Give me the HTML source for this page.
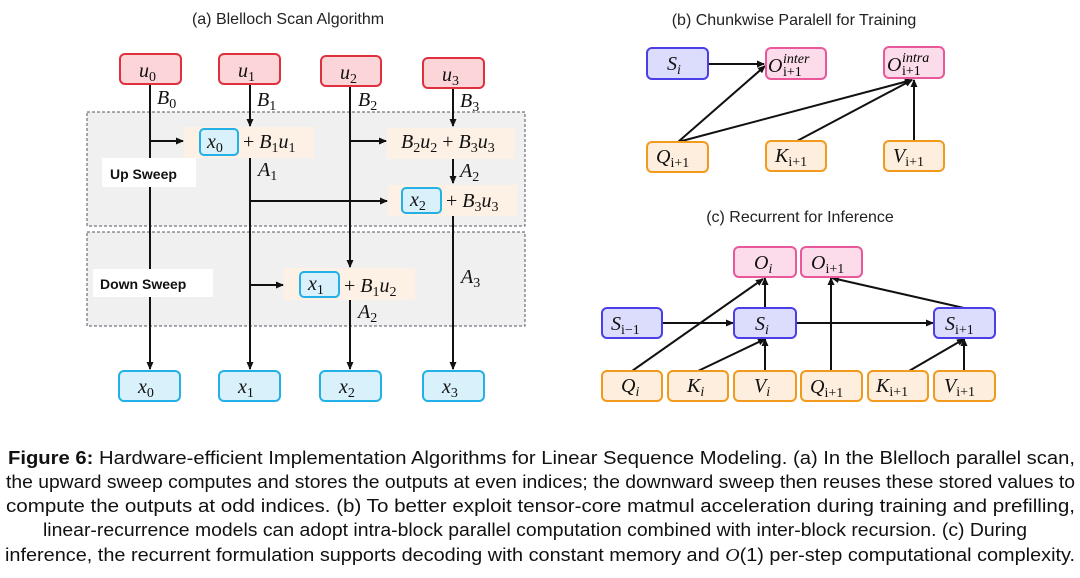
<!DOCTYPE html>
<html><head><meta charset="utf-8"><style>
html,body{margin:0;padding:0;background:#fff;}
svg{display:block;}
.m{font-family:"Liberation Serif",serif;font-style:italic;font-size:20px;fill:#111;}
.s{font-family:"Liberation Serif",serif;font-style:normal;font-size:14px;}
.si{font-family:"Liberation Serif",serif;font-style:italic;font-size:14px;}
.t{font-family:"Liberation Sans",sans-serif;font-size:16px;fill:#222;}
.c{font-family:"Liberation Sans",sans-serif;font-size:18px;fill:#111;}
.l{font-family:"Liberation Sans",sans-serif;font-weight:bold;font-size:14px;fill:#111;}
</style></head><body>
<svg width="1080" height="578" viewBox="0 0 1080 578" xmlns="http://www.w3.org/2000/svg">
<defs><marker id="a" markerWidth="8" markerHeight="8" refX="7" refY="4" orient="auto" markerUnits="userSpaceOnUse"><path d="M0,0.5 L8,4 L0,7.5 z" fill="#111"/></marker></defs>

<text class="t" x="288" y="24" text-anchor="middle">(a) Blelloch Scan Algorithm</text>
<text class="t" x="794" y="25" text-anchor="middle">(b) Chunkwise Paralell for Training</text>
<text class="t" x="800" y="222" text-anchor="middle">(c) Recurrent for Inference</text>

<rect x="87" y="112" width="438" height="114" fill="#f0f0f0" stroke="#556" stroke-dasharray="3,2" stroke-width="1"/>
<rect x="87" y="232" width="438" height="94" fill="#f0f0f0" stroke="#556" stroke-dasharray="3,2" stroke-width="1"/>

<rect x="184" y="127" width="130" height="31" fill="#fdf0e4"/>
<rect x="387" y="128" width="128" height="31" fill="#fdf0e4"/>
<rect x="388" y="185" width="129" height="31" fill="#fdf0e4"/>
<rect x="284" y="268" width="131" height="32" fill="#fdf0e4"/>

<g stroke="#111" stroke-width="2" fill="none">
<line x1="150" y1="84" x2="150" y2="369" marker-end="url(#a)"/>
<line x1="150" y1="141" x2="183" y2="141" marker-end="url(#a)"/>
<line x1="250" y1="84" x2="250" y2="126" marker-end="url(#a)"/>
<line x1="250" y1="158" x2="250" y2="369" marker-end="url(#a)"/>
<line x1="250" y1="201" x2="387" y2="201" marker-end="url(#a)"/>
<line x1="250" y1="285" x2="283" y2="285" marker-end="url(#a)"/>
<line x1="350" y1="86" x2="350" y2="267" marker-end="url(#a)"/>
<line x1="350" y1="141" x2="386" y2="141" marker-end="url(#a)"/>
<line x1="350" y1="300" x2="350" y2="369" marker-end="url(#a)"/>
<line x1="453" y1="88" x2="453" y2="126" marker-end="url(#a)"/>
<line x1="453" y1="159" x2="453" y2="183" marker-end="url(#a)"/>
<line x1="453" y1="216" x2="453" y2="369" marker-end="url(#a)"/>
</g>

<rect x="102" y="158" width="94" height="29" fill="#fff"/>
<rect x="93" y="269" width="120" height="28" fill="#fff"/>
<text class="l" x="110" y="179">Up Sweep</text>
<text class="l" x="100" y="289">Down Sweep</text>

<g fill="#fcd5d8" stroke="#e0303e" stroke-width="2">
<rect x="120" y="54" width="61" height="30" rx="5"/>
<rect x="219" y="54" width="61" height="30" rx="5"/>
<rect x="321" y="56" width="60" height="30" rx="5"/>
<rect x="423" y="58" width="61" height="30" rx="5"/>
</g>
<text class="m" x="139" y="77">u<tspan class="s" dy="4">0</tspan></text>
<text class="m" x="238" y="77">u<tspan class="s" dy="4">1</tspan></text>
<text class="m" x="340" y="79">u<tspan class="s" dy="4">2</tspan></text>
<text class="m" x="442" y="81">u<tspan class="s" dy="4">3</tspan></text>
<text class="m" x="157" y="104">B<tspan class="s" dy="4">0</tspan></text>
<text class="m" x="257" y="106">B<tspan class="s" dy="4">1</tspan></text>
<text class="m" x="358" y="106">B<tspan class="s" dy="4">2</tspan></text>
<text class="m" x="460" y="107">B<tspan class="s" dy="4">3</tspan></text>

<g fill="#d9f1fb" stroke="#22b0e6" stroke-width="2">
<rect x="200" y="129" width="38" height="26" rx="4"/>
<rect x="402" y="188" width="39" height="25" rx="4"/>
<rect x="300" y="272" width="39" height="25" rx="4"/>
<rect x="119" y="371" width="61" height="30" rx="5"/>
<rect x="219" y="371" width="61" height="30" rx="5"/>
<rect x="320" y="371" width="61" height="30" rx="5"/>
<rect x="423" y="371" width="61" height="30" rx="5"/>
</g>
<text class="m" x="207" y="148">x<tspan class="s" dy="4">0</tspan></text>
<text class="m" x="243" y="148"><tspan font-style="normal">+ </tspan>B<tspan class="s" dy="4">1</tspan><tspan dy="-4">u</tspan><tspan class="s" dy="4">1</tspan></text>
<text class="m" x="401" y="148">B<tspan class="s" dy="4">2</tspan><tspan dy="-4">u</tspan><tspan class="s" dy="4">2</tspan><tspan dy="-4" font-style="normal"> + </tspan>B<tspan class="s" dy="4">3</tspan><tspan dy="-4">u</tspan><tspan class="s" dy="4">3</tspan></text>
<text class="m" x="410" y="206">x<tspan class="s" dy="4">2</tspan></text>
<text class="m" x="446" y="207"><tspan font-style="normal">+ </tspan>B<tspan class="s" dy="4">3</tspan><tspan dy="-4">u</tspan><tspan class="s" dy="4">3</tspan></text>
<text class="m" x="308" y="290">x<tspan class="s" dy="4">1</tspan></text>
<text class="m" x="344" y="292"><tspan font-style="normal">+ </tspan>B<tspan class="s" dy="4">1</tspan><tspan dy="-4">u</tspan><tspan class="s" dy="4">2</tspan></text>
<text class="m" x="258" y="176">A<tspan class="s" dy="4">1</tspan></text>
<text class="m" x="460" y="177">A<tspan class="s" dy="4">2</tspan></text>
<text class="m" x="358" y="318">A<tspan class="s" dy="4">2</tspan></text>
<text class="m" x="461" y="283">A<tspan class="s" dy="4">3</tspan></text>
<text class="m" x="138" y="393">x<tspan class="s" dy="4">0</tspan></text>
<text class="m" x="238" y="393">x<tspan class="s" dy="4">1</tspan></text>
<text class="m" x="339" y="393">x<tspan class="s" dy="4">2</tspan></text>
<text class="m" x="442" y="393">x<tspan class="s" dy="4">3</tspan></text>

<g stroke="#111" stroke-width="2" fill="none">
<line x1="708" y1="64" x2="764" y2="64" marker-end="url(#a)"/>
<line x1="678" y1="142" x2="765" y2="66" marker-end="url(#a)"/>
<line x1="678" y1="142" x2="912" y2="80" marker-end="url(#a)"/>
<line x1="797" y1="141" x2="912" y2="80" marker-end="url(#a)"/>
<line x1="914" y1="141" x2="914" y2="80" marker-end="url(#a)"/>
</g>
<rect x="647" y="48" width="61" height="31" rx="5" fill="#dcdcfc" stroke="#4a3ee6" stroke-width="2"/>
<g fill="#fcdcea" stroke="#e8589a" stroke-width="2">
<rect x="766" y="48" width="60" height="31" rx="5"/>
<rect x="884" y="47" width="60" height="31" rx="5"/>
</g>
<g fill="#fdeede" stroke="#f29a1e" stroke-width="2">
<rect x="647" y="142" width="61" height="30" rx="5"/>
<rect x="766" y="141" width="60" height="30" rx="5"/>
<rect x="884" y="141" width="60" height="30" rx="5"/>
</g>
<text class="m" x="667" y="70">S<tspan class="si" dy="4">i</tspan></text>
<text class="m" x="768" y="72">O</text><text class="si" x="783" y="63">inter</text><text class="s" x="783" y="76">i+1</text>
<text class="m" x="887" y="71">O</text><text class="si" x="902" y="62">intra</text><text class="s" x="902" y="75">i+1</text>
<text class="m" x="656" y="163">Q<tspan class="s" dy="4">i+1</tspan></text>
<text class="m" x="775" y="162">K<tspan class="s" dy="4">i+1</tspan></text>
<text class="m" x="893" y="162">V<tspan class="s" dy="4">i+1</tspan></text>

<g stroke="#111" stroke-width="2" fill="none">
<line x1="662" y1="323" x2="733" y2="323" marker-end="url(#a)"/>
<line x1="796" y1="323" x2="933" y2="323" marker-end="url(#a)"/>
<line x1="765" y1="308" x2="765" y2="278" marker-end="url(#a)"/>
<line x1="632" y1="371" x2="763" y2="279" marker-end="url(#a)"/>
<line x1="698" y1="371" x2="765" y2="339" marker-end="url(#a)"/>
<line x1="765" y1="371" x2="765" y2="339" marker-end="url(#a)"/>
<line x1="831" y1="371" x2="831" y2="278" marker-end="url(#a)"/>
<line x1="964" y1="308" x2="832" y2="278" marker-end="url(#a)"/>
<line x1="909" y1="371" x2="964" y2="339" marker-end="url(#a)"/>
<line x1="964" y1="371" x2="964" y2="339" marker-end="url(#a)"/>
</g>
<g fill="#fcdcea" stroke="#e8589a" stroke-width="2">
<rect x="734" y="247" width="62" height="30" rx="5"/>
<rect x="801" y="247" width="61" height="30" rx="5"/>
</g>
<g fill="#dcdcfc" stroke="#4a3ee6" stroke-width="2">
<rect x="602" y="308" width="60" height="30" rx="5"/>
<rect x="734" y="308" width="62" height="30" rx="5"/>
<rect x="934" y="308" width="61" height="30" rx="5"/>
</g>
<g fill="#fdeede" stroke="#f29a1e" stroke-width="2">
<rect x="602" y="371" width="60" height="30" rx="5"/>
<rect x="668" y="371" width="60" height="30" rx="5"/>
<rect x="734" y="371" width="62" height="30" rx="5"/>
<rect x="801" y="371" width="61" height="30" rx="5"/>
<rect x="868" y="371" width="60" height="30" rx="5"/>
<rect x="934" y="371" width="61" height="30" rx="5"/>
</g>
<text class="m" x="754" y="269">O<tspan class="si" dy="4">i</tspan></text>
<text class="m" x="811" y="269">O<tspan class="s" dy="4">i+1</tspan></text>
<text class="m" x="611" y="330">S<tspan class="s" dy="4">i−1</tspan></text>
<text class="m" x="755" y="330">S<tspan class="si" dy="4">i</tspan></text>
<text class="m" x="945" y="330">S<tspan class="s" dy="4">i+1</tspan></text>
<text class="m" x="621" y="392">Q<tspan class="si" dy="4">i</tspan></text>
<text class="m" x="687" y="392">K<tspan class="si" dy="4">i</tspan></text>
<text class="m" x="754" y="392">V<tspan class="si" dy="4">i</tspan></text>
<text class="m" x="810" y="393">Q<tspan class="s" dy="4">i+1</tspan></text>
<text class="m" x="876" y="392">K<tspan class="s" dy="4">i+1</tspan></text>
<text class="m" x="944" y="392">V<tspan class="s" dy="4">i+1</tspan></text>

<text class="c" x="8" y="464" textLength="1067" lengthAdjust="spacingAndGlyphs"><tspan font-weight="bold">Figure 6:</tspan> Hardware-efficient Implementation Algorithms for Linear Sequence Modeling. (a) In the Blelloch parallel scan,</text>
<text class="c" x="6" y="488" textLength="1069" lengthAdjust="spacingAndGlyphs">the upward sweep computes and stores the outputs at even indices; the downward sweep then reuses these stored values to</text>
<text class="c" x="6" y="512" textLength="1069" lengthAdjust="spacingAndGlyphs">compute the outputs at odd indices. (b) To better exploit tensor-core matmul acceleration during training and prefilling,</text>
<text class="c" x="43" y="536" textLength="984" lengthAdjust="spacingAndGlyphs">linear-recurrence models can adopt intra-block parallel computation combined with inter-block recursion. (c) During</text>
<text class="c" x="5" y="561" textLength="1070" lengthAdjust="spacingAndGlyphs">inference, the recurrent formulation supports decoding with constant memory and <tspan font-family="Liberation Serif" font-style="italic">O</tspan>(1) per-step computational complexity.</text>
</svg>
</body></html>
